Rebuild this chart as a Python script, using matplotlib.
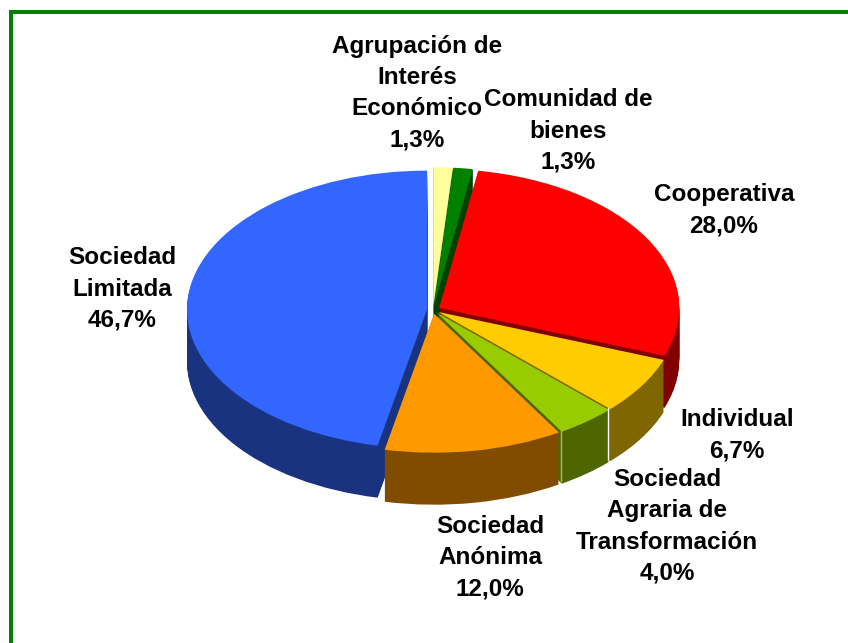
import matplotlib
matplotlib.use('Agg')
import numpy as np
import matplotlib.pyplot as plt
from matplotlib.lines import Line2D

W, H = 848, 643

names = ['Agrupación de\nInterés\nEconómico', 'Comunidad de\nbienes', 'Cooperativa',
         'Individual', 'Sociedad\nAgraria de\nTransformación', 'Sociedad\nAnónima',
         'Sociedad\nLimitada']
values = [1.3, 1.3, 28.0, 6.7, 4.0, 12.0, 46.7]
top_colors = ['#FFFF99', '#008000', '#FF0000', '#FFCC00', '#99CC00', '#FF9900', '#3366FF']
side_colors = ['#80804D', '#004000', '#800000', '#806600', '#4D6600', '#804D00', '#1A3380']
# label centres in pixels
label_x = [417, 568, 724, 737, 667, 490, 122]
label_y = [93, 131, 210.5, 435, 526.5, 558, 289]

cx, cy = 433, 310   # pie centre in pixels
rx, ry = 240, 139   # ellipse radii
depth = 52
explode = [0.027, 0.027, 0.03, 0.027, 0.027, 0.027, 0.025]

plt.rcParams['font.family'] = ['Liberation Sans', 'DejaVu Sans']

fig = plt.figure(figsize=(W / 100, H / 100), dpi=100)
ax = fig.add_axes([0, 0, 1, 1])

# stack darker pies from the bottom up to get the side walls
for k in range(depth, 0, -1):
    ax.pie(values, colors=side_colors, startangle=90, counterclock=False, explode=explode,
           center=(0, -k / ry), radius=1, frame=True,
           wedgeprops={'linewidth': 0})
ax.pie(values, colors=top_colors, startangle=90, counterclock=False, explode=explode,
       center=(0, 0), radius=1, frame=True, wedgeprops={'linewidth': 0})

ax.set_aspect('auto')
ax.set_xlim(-cx / rx, (W - cx) / rx)
ax.set_ylim(-(H - cy) / ry, cy / ry)
ax.axis('off')

# thin light seams on the front walls
fracs = np.cumsum(values) / np.sum(values)
for i, col in [(3, 'white'), (4, '#A8B870')]:
    ang = np.pi / 2 - 2 * np.pi * fracs[i]
    x0, y0 = np.cos(ang), np.sin(ang)
    ax.plot([x0 + 0.012, x0 + 0.012], [y0 - 0.01, y0 - depth / ry], color=col, lw=1, zorder=5)

for name, v, x, y in zip(names, values, label_x, label_y):
    txt = name + '\n' + f'{v:.1f}'.replace('.', ',') + '%'
    fig.text(x / W, 1 - y / H, txt, ha='center', va='center', fontsize=17.5, fontweight='bold',
             color='black', linespacing=1.45)

# green frame, left and top only
fig.add_artist(Line2D([11 / W, 11 / W], [0, 1 - 10 / H], color='#008000', lw=4 * 72 / 100,
                      solid_capstyle='butt'))
fig.add_artist(Line2D([9 / W, 1], [1 - 12 / H, 1 - 12 / H], color='#008000', lw=4 * 72 / 100,
                      solid_capstyle='butt'))

fig.savefig('out.png', dpi=100, facecolor='white')
